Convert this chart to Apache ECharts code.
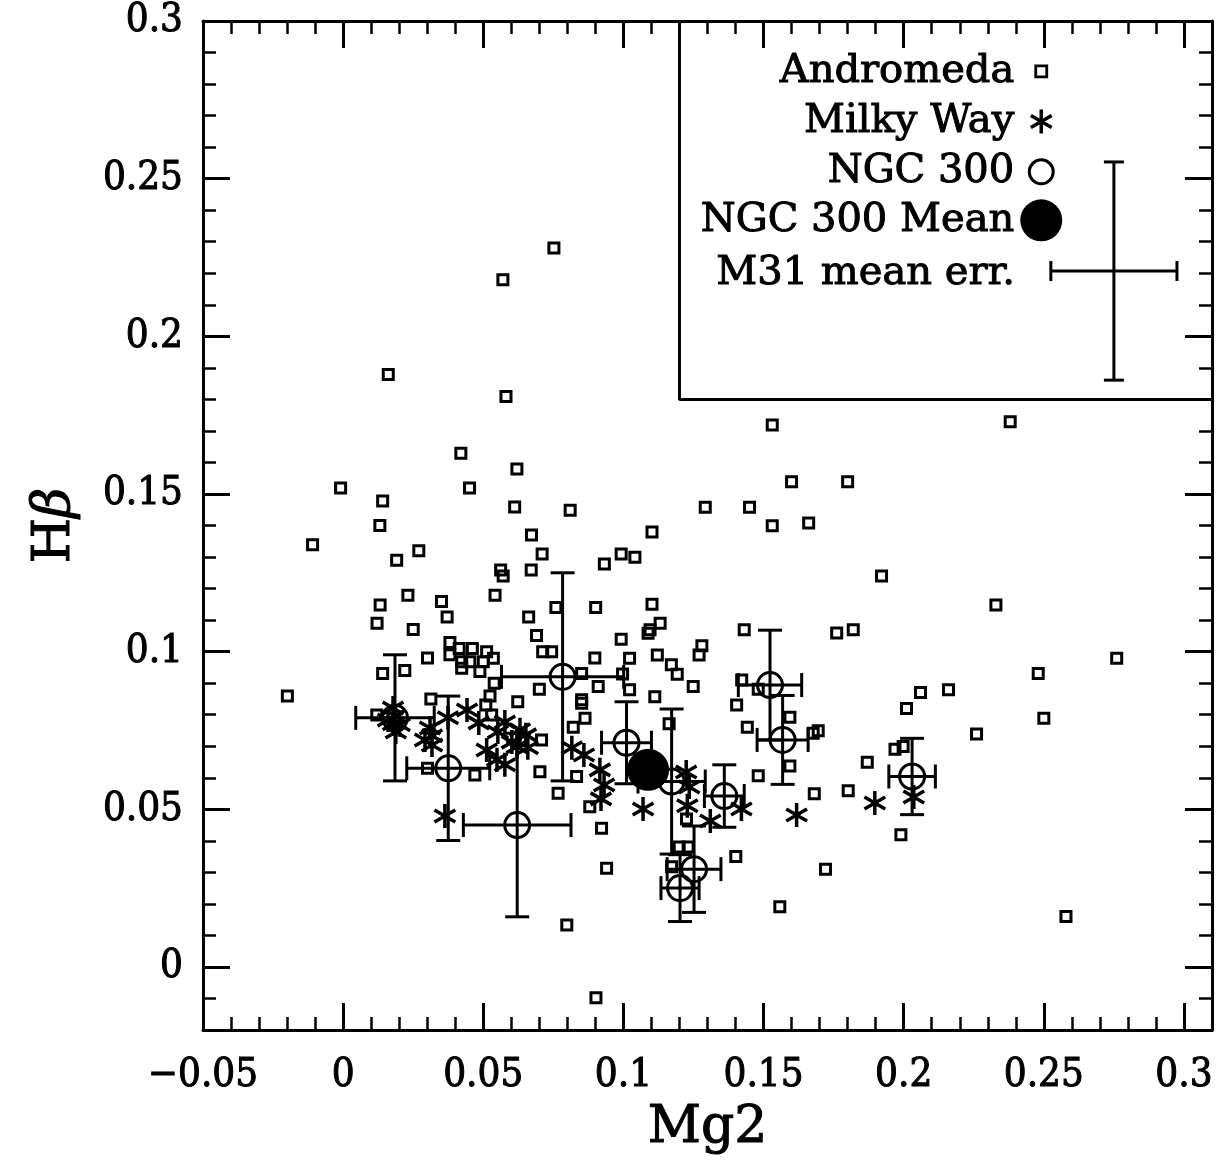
<!DOCTYPE html>
<html>
<head>
<meta charset="utf-8">
<script src="https://cdn.jsdelivr.net/npm/echarts@6/dist/echarts.min.js"></script>
<style>html,body{margin:0;padding:0;background:#fff;}#chart{width:1225px;height:1163px;}</style>
</head>
<body>
<div id="chart"></div>
<script>
// ---- tick definitions ----
const xTickValues = [-0.05, 0, 0.05, 0.1, 0.15, 0.2, 0.25, 0.3];
const xTickLabels = ['\u22120.05', '0', '0.05', '0.1', '0.15', '0.2', '0.25', '0.3'];
const yTickValues = [0, 0.05, 0.1, 0.15, 0.2, 0.25, 0.3];
const yTickLabels = ['0', '0.05', '0.1', '0.15', '0.2', '0.25', '0.3'];

// ---- Andromeda (M31) clusters: Mg2, Hbeta ----
const andromedaMg2 = [0.0752,0.0570,0.0161,0.0581,0.2380,0.1531,0.0420,0.0620,0.1600,0.1800,-0.0009,0.0451,0.0141,0.0612,0.0810,0.1292,0.1450,0.0131,0.1531,0.1661,0.1102,0.0672,-0.0109,0.0270,0.0710,0.0992,0.1041,0.0191,0.0932,0.0562,0.0571,0.0671,0.1921,0.0231,0.0542,0.0132,0.0351,0.0759,0.0901,0.1102,0.2329,0.0121,0.0371,0.0662,0.1131,0.0250,0.0690,0.1095,0.1088,0.1431,0.1761,0.1820,0.0992,0.0381,0.0712,0.0744,0.0414,0.0461,0.0512,0.0898,0.0301,0.1280,0.1270,0.1121,0.1022,0.1171,0.1192,0.2760,0.2480,0.0997,0.1022,0.1249,0.1112,0.1422,0.1481,0.2060,0.2160,0.2010,0.2500,0.2260,0.1969,0.1998,0.1870,0.1990,0.2579,0.0381,0.0423,0.0452,0.0500,0.0536,0.0423,0.0488,0.0141,0.0220,0.0851,0.0910,0.0539,0.0700,-0.0199,0.0313,0.0524,0.0623,0.0509,0.0530,0.0851,0.0851,0.0863,0.0821,0.0120,0.0708,0.0301,0.0470,0.0702,0.0833,0.0767,0.0880,0.0922,0.0940,0.1404,0.1442,0.1163,0.1594,0.1677,0.1695,0.1594,0.1481,0.1681,0.1802,0.1225,0.1199,0.1231,0.1401,0.1721,0.1558,0.0798,0.0902,0.1172];
const andromedaHb = [0.2280,0.2179,0.1879,0.1809,0.1729,0.1719,0.1629,0.1579,0.1539,0.1539,0.1519,0.1519,0.1478,0.1459,0.1448,0.1458,0.1458,0.1400,0.1399,0.1408,0.1379,0.1370,0.1339,0.1320,0.1310,0.1310,0.1299,0.1290,0.1278,0.1259,0.1240,0.1259,0.1240,0.1179,0.1179,0.1148,0.1159,0.1140,0.1140,0.1150,0.1148,0.1090,0.1110,0.1110,0.1090,0.1070,0.1051,0.1069,0.1058,0.1069,0.1059,0.1069,0.1039,0.1029,0.1000,0.1000,0.1010,0.1010,0.1000,0.0980,0.0980,0.1019,0.0989,0.0989,0.0979,0.0958,0.0928,0.0979,0.0931,0.0929,0.0879,0.0889,0.0857,0.0910,0.0881,0.0870,0.0879,0.0820,0.0789,0.0739,0.0690,0.0699,0.0649,0.0419,0.0160,0.0990,0.0968,0.0968,0.0968,0.0979,0.0947,0.0937,0.0931,0.0940,0.0931,0.0889,0.0900,0.0881,0.0859,0.0850,0.0859,0.0841,0.0831,0.0799,0.0847,0.0836,0.0789,0.0760,0.0799,0.0720,0.0630,0.0609,0.0619,0.0604,0.0551,0.0508,0.0440,0.0313,0.0831,0.0760,0.0771,0.0792,0.0741,0.0749,0.0637,0.0606,0.0549,0.0559,0.0469,0.0380,0.0380,0.0350,0.0310,0.0191,0.0133,-0.0098,0.0318];

// ---- Milky Way clusters ----
const milkyWayMg2 = [0.0178,0.0185,0.0178,0.0188,0.0160,0.0202,0.0310,0.0317,0.0317,0.0292,0.0374,0.0442,0.0484,0.0552,0.0577,0.0631,0.0652,0.0620,0.0602,0.0512,0.0659,0.0549,0.0577,0.0363,0.0816,0.0859,0.0916,0.0931,0.0920,0.1070,0.1224,0.1235,0.1228,0.1310,0.1421,0.1618,0.1897,0.2036];
const milkyWayHb = [0.0821,0.0796,0.0771,0.0745,0.0783,0.0768,0.0758,0.0733,0.0704,0.0720,0.0790,0.0815,0.0774,0.0745,0.0777,0.0752,0.0736,0.0698,0.0713,0.0688,0.0695,0.0657,0.0641,0.0479,0.0695,0.0672,0.0625,0.0577,0.0533,0.0501,0.0618,0.0571,0.0511,0.0463,0.0501,0.0482,0.0520,0.0539];

// ---- NGC 300 clusters with errors ----
const ngcMg2 = [0.0185,0.0375,0.0621,0.0783,0.1011,0.1172,0.1360,0.1523,0.1568,0.2030,0.1252,0.1202];
const ngcHb = [0.0790,0.0630,0.0450,0.0920,0.0711,0.0588,0.0542,0.0894,0.0720,0.0604,0.0310,0.0250];
const ngcMg2Err = [0.0140,0.0148,0.0192,0.0218,0.0089,0.0120,0.0071,0.0113,0.0091,0.0083,0.0096,0.0068];
const ngcHbErr = [0.0200,0.0229,0.0291,0.0330,0.0130,0.0230,0.0099,0.0174,0.0141,0.0121,0.0137,0.0106];

// ---- NGC 300 mean ----
const ngcMeanMg2 = [0.1088];
const ngcMeanHb = [0.0625];

// ---- M31 mean error (legend cross) ----
const m31ErrCenter = [0.275, 0.2207];
const m31Err = [0.0225, 0.0346];

// ---- legend frame corners ----
const legendFrameMg2 = [0.12, 0.12, 0.31];
const legendFrameHb = [0.30, 0.18, 0.18];

const FONT = "'DejaVu Serif Condensed', 'DejaVu Serif', serif";
const FONT2 = "'DejaVu Serif', serif";
const zip = (a, b) => a.map((v, i) => [v, b[i]]);

function pick(vals, labels, v) {
  for (let i = 0; i < vals.length; i++) if (Math.abs(vals[i] - v) < 1e-6) return labels[i];
  return '';
}

function errorRender(capPx) {
  return function (params, api) {
    const x = api.value(0), y = api.value(1), ex = api.value(2), ey = api.value(3);
    const L = api.coord([x - ex, y]), R = api.coord([x + ex, y]);
    const T = api.coord([x, y + ey]), B = api.coord([x, y - ey]);
    const st = () => ({ stroke: '#000', lineWidth: 3, fill: null });
    return {
      type: 'group',
      children: [
        { type: 'line', shape: { x1: L[0], y1: L[1], x2: R[0], y2: R[1] }, style: st() },
        { type: 'line', shape: { x1: T[0], y1: T[1], x2: B[0], y2: B[1] }, style: st() },
        { type: 'line', shape: { x1: L[0], y1: L[1] - capPx, x2: L[0], y2: L[1] + capPx }, style: st() },
        { type: 'line', shape: { x1: R[0], y1: R[1] - capPx, x2: R[0], y2: R[1] + capPx }, style: st() },
        { type: 'line', shape: { x1: T[0] - capPx, y1: T[1], x2: T[0] + capPx, y2: T[1] }, style: st() },
        { type: 'line', shape: { x1: B[0] - capPx, y1: B[1], x2: B[0] + capPx, y2: B[1] }, style: st() }
      ]
    };
  };
}

const STAR = 'path://M0,-11V11M-9.53,-5.5L9.53,5.5M-9.53,5.5L9.53,-5.5M-11,0M11,0';
const PAD = 'M0,0M44,44';
const iconSquare = 'path://' + PAD + 'M16.5,16.5h11v11h-11z';
const iconStar = 'path://' + PAD + 'M22,10V34M11.6,16L32.4,28M11.6,28L32.4,16';
const iconCircle = 'path://' + PAD + 'M10,22a12,12 0 1,0 24,0a12,12 0 1,0 -24,0z';
const iconDot = 'path://' + PAD + 'M1,22a21,21 0 1,0 42,0a21,21 0 1,0 -42,0z';

const txtBold = { textBorderColor: '#000', textBorderWidth: 1 };

function xAxisDef(pos, major) {
  return {
    type: 'value', min: -0.05, max: 0.31, position: pos,
    interval: major ? undefined : 0.01,
    axisLine: { show: major, onZero: false, lineStyle: { color: '#000', width: 3 } },
    axisTick: major ? { show: true, inside: true, length: 27, customValues: xTickValues, lineStyle: { color: '#000', width: 3 } }
                    : { show: true, inside: true, length: 13, lineStyle: { color: '#000', width: 2.5 } },
    axisLabel: (major && pos === 'bottom') ? Object.assign({
      show: true, customValues: xTickValues, margin: 26, color: '#000', fontFamily: FONT, fontSize: 40,
      formatter: v => pick(xTickValues, xTickLabels, v)
    }, txtBold) : { show: false },
    splitLine: { show: false },
    name: (major && pos === 'bottom') ? 'Mg2' : '',
    nameLocation: 'middle', nameGap: 72,
    nameTextStyle: Object.assign({ fontFamily: FONT2, fontSize: 52, color: '#000', verticalAlign: 'top' }, txtBold)
  };
}
function yAxisDef(pos, major) {
  return {
    type: 'value', min: -0.02, max: 0.3, position: pos,
    interval: major ? undefined : 0.01,
    axisLine: { show: major, onZero: false, lineStyle: { color: '#000', width: 3 } },
    axisTick: major ? { show: true, inside: true, length: 27, customValues: yTickValues, lineStyle: { color: '#000', width: 3 } }
                    : { show: true, inside: true, length: 13, lineStyle: { color: '#000', width: 2.5 } },
    axisLabel: (major && pos === 'left') ? Object.assign({
      show: true, customValues: yTickValues, margin: 20, color: '#000', fontFamily: FONT, fontSize: 40,
      formatter: v => pick(yTickValues, yTickLabels, v)
    }, txtBold) : { show: false },
    splitLine: { show: false },
    name: (major && pos === 'left') ? '{h|H}{b|\u03b2}' : '',
    nameLocation: 'middle', nameGap: 122, nameRotate: 90,
    nameTextStyle: {
      color: '#000',
      rich: {
        h: Object.assign({ fontFamily: FONT2, fontSize: 52, color: '#000' }, txtBold),
        b: Object.assign({ fontFamily: FONT2, fontSize: 52, fontStyle: 'italic', color: '#000' }, txtBold)
      }
    }
  };
}

const chart = echarts.init(document.getElementById('chart'), null, { renderer: 'canvas' });
const legendText = Object.assign({ fontFamily: FONT2, fontSize: 40, color: '#000' }, txtBold);

chart.setOption({
  animation: false,
  backgroundColor: '#fff',
  grid: { left: 203, top: 21, width: 1009, height: 1009, containLabel: false },
  xAxis: [xAxisDef('bottom', true), xAxisDef('top', true), xAxisDef('bottom', false), xAxisDef('top', false)],
  yAxis: [yAxisDef('left', true), yAxisDef('right', true), yAxisDef('left', false), yAxisDef('right', false)],
  legend: [
    {
      orient: 'vertical', align: 'right', right: 160, top: 48, itemWidth: 44, itemHeight: 44, itemGap: 3,
      selectedMode: false, textStyle: legendText, padding: 0,
      data: [
        { name: 'Andromeda', icon: iconSquare, itemStyle: { color: 'rgba(0,0,0,0)', borderColor: '#000', borderWidth: 2.8, opacity: 1 } },
        { name: 'Milky Way', icon: iconStar, itemStyle: { color: 'rgba(0,0,0,0)', borderColor: '#000', borderWidth: 3.5, opacity: 1 } },
        { name: 'NGC 300', icon: iconCircle, itemStyle: { color: 'rgba(0,0,0,0)', borderColor: '#000', borderWidth: 3, opacity: 1 } },
        { name: 'NGC 300 Mean', icon: iconDot, itemStyle: { color: '#000', borderColor: '#000', borderWidth: 0, opacity: 1 } }
      ]
    },
    {
      orient: 'vertical', align: 'right', right: 195, top: 253, itemWidth: 10, itemHeight: 44,
      selectedMode: false, textStyle: legendText, padding: 0,
      data: [{ name: 'M31 mean err.', icon: 'circle', itemStyle: { color: 'rgba(0,0,0,0)', borderColor: 'rgba(0,0,0,0)', borderWidth: 0 } }]
    }
  ],
  series: [
    {
      name: 'legend frame', type: 'line', silent: true, symbol: 'none',
      data: zip(legendFrameMg2, legendFrameHb),
      lineStyle: { color: '#000', width: 3 }, z: 5
    },
    {
      name: 'Andromeda', type: 'scatter', symbol: 'rect', symbolSize: 10,
      data: zip(andromedaMg2, andromedaHb),
      itemStyle: { color: 'rgba(0,0,0,0)', borderColor: '#000', borderWidth: 3, opacity: 1 },
      emphasis: { disabled: true }, z: 2
    },
    {
      name: 'Milky Way', type: 'scatter', symbol: STAR, symbolSize: 24, symbolKeepAspect: true,
      data: zip(milkyWayMg2, milkyWayHb),
      itemStyle: { color: 'rgba(0,0,0,0)', borderColor: '#000', borderWidth: 3.5, opacity: 1 },
      emphasis: { disabled: true }, z: 3
    },
    {
      name: 'NGC 300 errors', type: 'custom', renderItem: errorRender(12),
      data: ngcMg2.map((v, i) => [v, ngcHb[i], ngcMg2Err[i], ngcHbErr[i]]),
      encode: { x: 0, y: 1 }, silent: true, z: 4
    },
    {
      name: 'NGC 300', type: 'scatter', symbol: 'circle', symbolSize: 25,
      data: zip(ngcMg2, ngcHb),
      itemStyle: { color: 'rgba(0,0,0,0)', borderColor: '#000', borderWidth: 3, opacity: 1 },
      emphasis: { disabled: true }, z: 4
    },
    {
      name: 'NGC 300 Mean', type: 'scatter', symbol: 'circle', symbolSize: 42,
      data: zip(ngcMeanMg2, ngcMeanHb),
      itemStyle: { color: '#000', opacity: 1 },
      emphasis: { disabled: true }, z: 6
    },
    {
      name: 'M31 mean err.', type: 'custom', renderItem: errorRender(10),
      data: [[m31ErrCenter[0], m31ErrCenter[1], m31Err[0], m31Err[1]]],
      encode: { x: 0, y: 1 }, silent: true, z: 5
    }
  ]
});
</script>
</body>
</html>
